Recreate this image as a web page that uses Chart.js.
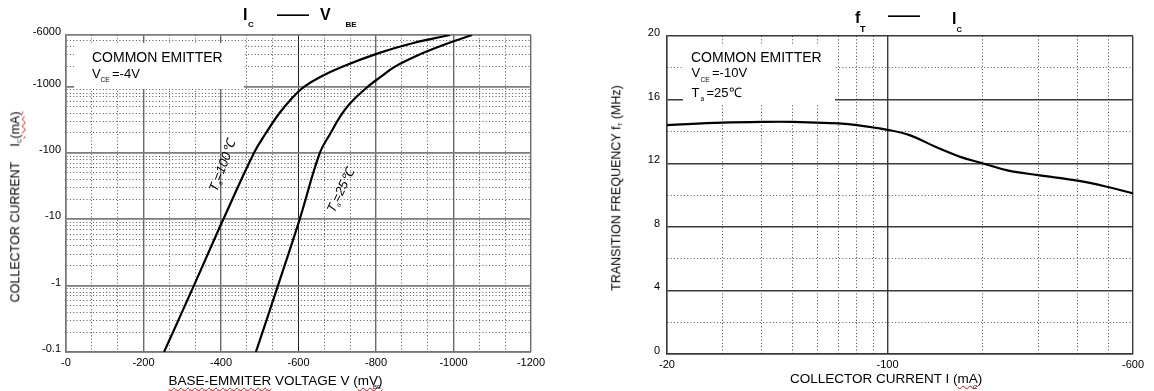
<!DOCTYPE html>
<html><head><meta charset="utf-8">
<script src="https://cdn.jsdelivr.net/npm/chart.js@4.4.1/dist/chart.umd.min.js"></script>
<style>
html,body{margin:0;padding:0;background:#fff;}
body{width:1154px;height:391px;position:relative;overflow:hidden;font-family:"Liberation Sans",Arial,sans-serif;color:#000;}
canvas{position:absolute;top:0;}
#c1{left:0;}
#c2{left:580px;}
.t{position:absolute;white-space:nowrap;line-height:1;z-index:3;}
.b{font-weight:bold;}
.box{position:absolute;background:#fff;z-index:2;}
.rot{position:absolute;white-space:nowrap;line-height:1;z-index:3;transform:translate(-50%,-50%) rotate(-90deg);}
.sub{font-size:0.5em;vertical-align:-0.35em;}
.wavy{text-decoration:underline wavy #e00;text-decoration-thickness:1px;text-underline-offset:2px;}
</style></head>
<body>
<canvas id="c1" width="560" height="391"></canvas>
<canvas id="c2" width="574" height="391"></canvas>

<!-- left title -->
<div class="t b" style="left:243px;top:7.2px;font-size:16px">I</div>
<div class="t b" style="left:248px;top:20.5px;font-size:8px">C</div>
<div class="t b" style="left:277px;top:7.2px;font-size:16px">——</div>
<div class="t b" style="left:320px;top:7.2px;font-size:16px">V</div>
<div class="t b" style="left:345.5px;top:20.5px;font-size:8px">BE</div>

<!-- right title -->
<div class="t b" style="left:855px;top:9.8px;font-size:16px">f</div>
<div class="t b" style="left:860px;top:24.8px;font-size:9px">T</div>
<div class="t b" style="left:888px;top:8.4px;font-size:16px">——</div>
<div class="t b" style="left:952px;top:11.2px;font-size:16px">I</div>
<div class="t b" style="left:956.5px;top:25.7px;font-size:7.5px">C</div>

<!-- left annotation -->
<div class="box" style="left:74px;top:43px;width:170px;height:46px"></div>
<div class="t" style="left:92px;top:49.9px;font-size:14px">COMMON EMITTER</div>
<div class="t" style="left:92px;top:66.6px;font-size:13px">V</div>
<div class="t" style="left:100.5px;top:76.5px;font-size:6.5px">CE</div>
<div class="t" style="left:112px;top:66.6px;font-size:13px">=-4V</div>

<!-- right annotation -->
<div class="box" style="left:683px;top:46px;width:152px;height:57px"></div>
<div class="t" style="left:691px;top:49.9px;font-size:14px">COMMON EMITTER</div>
<div class="t" style="left:691.5px;top:66.3px;font-size:13px">V</div>
<div class="t" style="left:700.5px;top:76.5px;font-size:6.5px">CE</div>
<div class="t" style="left:712px;top:66.3px;font-size:13px">=-10V</div>
<div class="t" style="left:691.5px;top:86.3px;font-size:13px">T</div>
<div class="t" style="left:700.5px;top:95.5px;font-size:6.5px">a</div>
<div class="t" style="left:706.5px;top:86.3px;font-size:13px">=25℃</div>

<!-- curve labels -->
<div class="t" style="left:223px;top:166px;transform:translate(-50%,-50%) rotate(-69deg);font-style:italic;font-size:13px">T<span class="sub">a</span>=100℃</div>
<div class="t" style="left:341px;top:191px;transform:translate(-50%,-50%) rotate(-64.5deg);font-style:italic;font-size:13px">T<span class="sub">a</span>=25℃</div>

<!-- axis titles -->
<div class="rot" style="left:16px;top:207px;font-size:12.5px">COLLECTOR CURRENT<span style="display:inline-block;width:15px"></span>I<span class="sub">C</span><span class="wavy">(mA)</span></div>
<div class="rot" style="left:617px;top:188px;font-size:12.5px">TRANSITION FREQUENCY f<span class="sub">T</span> (MHz)</div>
<div class="t" style="left:168.5px;top:374px;font-size:13.5px"><span class="wavy">BASE-EMMITER</span> VOLTAGE V (<span class="wavy">mV)</span></div>
<div class="t" style="left:373px;top:384px;font-size:6px">BE</div>
<div class="t" style="left:790px;top:371.5px;font-size:13.5px">COLLECTOR CURRENT I (<span class="wavy">mA</span>)</div>
<div class="t" style="left:973px;top:383.5px;font-size:6px">C</div>

<script>
// ---------- data (magnitudes; axes are labelled with a leading minus sign) ----------
// Left chart: I_C vs V_BE
const vbeTickLabels = [0, 200, 400, 600, 800, 1000, 1200];      // mV
const icTickLabels  = [0.1, 1, 10, 100, 1000, 6000];             // mA
const vbe_100C = [253, 330, 406, 485, 516, 551, 586, 615, 656, 713, 807, 894, 991];
const ic_100C  = [0.1, 1, 10, 100, 200, 400, 700, 1000, 1400, 2000, 3200, 4500, 6000];
const vbe_25C  = [490, 547, 603, 655, 683, 707, 734, 779, 812, 849, 921, 986, 1048];
const ic_25C   = [0.1, 1, 10, 100, 200, 350, 565, 1000, 1400, 2000, 3200, 4500, 6000];

// Right chart: fT vs I_C
const icFtTickLabels = [20, 100, 600];        // mA
const ftTickLabels   = [0, 4, 8, 12, 16, 20]; // MHz
const ic_ft = [20, 30, 40, 50, 70, 80, 100, 118, 143, 170, 200, 240, 300, 400, 500, 600];
const ft    = [14.4, 14.55, 14.6, 14.6, 14.5, 14.4, 14.1, 13.75, 13.0, 12.4, 12.0, 11.55, 11.25, 10.9, 10.5, 10.1];

// ---------- helpers ----------
const near = (a, b) => Math.abs(a - b) <= 1e-6 * Math.max(1, Math.abs(b));
const inList = (v, list) => list.some(b => near(v, b));
const uniq = list => list.filter((v, i) => list.findIndex(w => near(v, w)) === i);
const FONT = {family: "'Liberation Sans', Arial, sans-serif", size: 11};
const DOT = [1, 2.3];

// grid tick positions
let vbeGrid = [];
for (let i = 0; i < vbeTickLabels.length - 1; i++) {
  const a = vbeTickLabels[i], b = vbeTickLabels[i + 1];
  vbeGrid.push(a, a + (b - a) / 3, a + 2 * (b - a) / 3);
}
vbeGrid.push(vbeTickLabels[vbeTickLabels.length - 1]);
vbeGrid = uniq(vbeGrid);

let icGrid = [];
[0.1, 1, 10, 100, 1000].forEach(d => { for (let k = 1; k <= 9; k++) { const v = d * k; if (v <= 6000 + 1e-9) icGrid.push(v); } });
icGrid.push(6000);
icGrid = uniq(icGrid);

let icFtGrid = [];
[10, 100].forEach(d => { for (let k = 1; k <= 9; k++) { const v = d * k; if (v >= 20 && v <= 600) icFtGrid.push(v); } });
icFtGrid.push(600);
icFtGrid = uniq(icFtGrid);

const ftGrid = [];
for (let v = 0; v <= 20; v += 2) ftGrid.push(v);

function curve(xs, ys, tension) {
  return {
    data: xs.map((x, i) => ({x: x, y: ys[i]})),
    borderColor: '#000', borderWidth: 2.2, pointRadius: 0, fill: false,
    tension: tension
  };
}

const common = {
  responsive: false, animation: false, devicePixelRatio: 1,
  plugins: {legend: {display: false}, tooltip: {enabled: false}, title: {display: false}},
  events: []
};

// ---------- left chart ----------
new Chart(document.getElementById('c1'), {
  type: 'line',
  data: {datasets: [curve(vbe_100C, ic_100C, 0.4), curve(vbe_25C, ic_25C, 0.4)]},
  options: Object.assign({}, common, {
    layout: {padding: {left: 0, top: 35, right: 29, bottom: 0}},
    scales: {
      x: {
        type: 'linear', min: 0, max: 1200,
        afterBuildTicks: s => { s.ticks = vbeGrid.map(v => ({value: v})); },
        afterFit: s => { s.height = 39; },
        ticks: {autoSkip: false, maxRotation: 0, minRotation: 0, padding: 4, color: '#000', font: FONT,
          callback: v => inList(v, vbeTickLabels) ? '-' + Math.round(v) : ''},
        grid: {drawTicks: false,
          color: c => !c.tick ? '#777' : (near(c.tick.value, 600) ? '#222' : (inList(c.tick.value, vbeTickLabels) ? '#6a6a6a' : '#555')),
          lineWidth: c => !c.tick ? 1.5 : (inList(c.tick.value, vbeTickLabels) ? (near(c.tick.value, 600) ? 1 : 1.4) : 1)},
        border: {display: true, color: '#777', width: 1.6,
          dash: c => (c.tick && !inList(c.tick.value, vbeTickLabels)) ? DOT : []}
      },
      y: {
        type: 'logarithmic', min: 0.1, max: 6000,
        afterBuildTicks: s => { s.ticks = icGrid.map(v => ({value: v})); },
        afterFit: s => { s.width = 66; },
        ticks: {autoSkip: false, padding: 5, labelOffset: -3, color: '#000', font: FONT,
          callback: v => inList(v, icTickLabels) ? '-' + v : ''},
        grid: {drawTicks: false,
          color: c => (c.tick && inList(c.tick.value, icTickLabels)) ? '#7d7d7d' : '#555',
          lineWidth: c => (c.tick && inList(c.tick.value, icTickLabels)) ? 1.8 : 1},
        border: {display: true, color: '#777', width: 1.6,
          dash: c => (c.tick && !inList(c.tick.value, icTickLabels)) ? DOT : []}
      }
    }
  })
});

// ---------- right chart ----------
new Chart(document.getElementById('c2'), {
  type: 'line',
  data: {datasets: [curve(ic_ft, ft, 0.4)]},
  options: Object.assign({}, common, {
    layout: {padding: {left: 0, top: 36, right: 21, bottom: 0}},
    scales: {
      x: {
        type: 'logarithmic', min: 20, max: 600,
        afterBuildTicks: s => { s.ticks = icFtGrid.map(v => ({value: v})); },
        afterFit: s => { s.height = 37; },
        ticks: {autoSkip: false, maxRotation: 0, minRotation: 0, padding: 4, color: '#000', font: FONT,
          callback: v => inList(v, icFtTickLabels) ? '-' + v : ''},
        grid: {drawTicks: false,
          color: c => (c.tick && inList(c.tick.value, icFtTickLabels)) ? '#3a3a3a' : '#444',
          lineWidth: c => (c.tick && inList(c.tick.value, icFtTickLabels)) ? 1.4 : 1},
        border: {display: true, color: '#3a3a3a', width: 1.4,
          dash: c => (c.tick && !inList(c.tick.value, icFtTickLabels)) ? DOT : []}
      },
      y: {
        type: 'linear', min: 0, max: 20,
        afterBuildTicks: s => { s.ticks = ftGrid.map(v => ({value: v})); },
        afterFit: s => { s.width = 87; },
        ticks: {autoSkip: false, padding: 7, labelOffset: -3, color: '#000', font: FONT,
          callback: v => inList(v, ftTickLabels) ? String(v) : ''},
        grid: {drawTicks: false,
          color: c => (c.tick && inList(c.tick.value, ftTickLabels)) ? '#3a3a3a' : '#555',
          lineWidth: c => (c.tick && inList(c.tick.value, ftTickLabels)) ? 1.4 : 1},
        border: {display: true, color: '#3a3a3a', width: 1.4,
          dash: c => (c.tick && !inList(c.tick.value, ftTickLabels)) ? DOT : []}
      }
    }
  })
});
</script>
</body></html>
